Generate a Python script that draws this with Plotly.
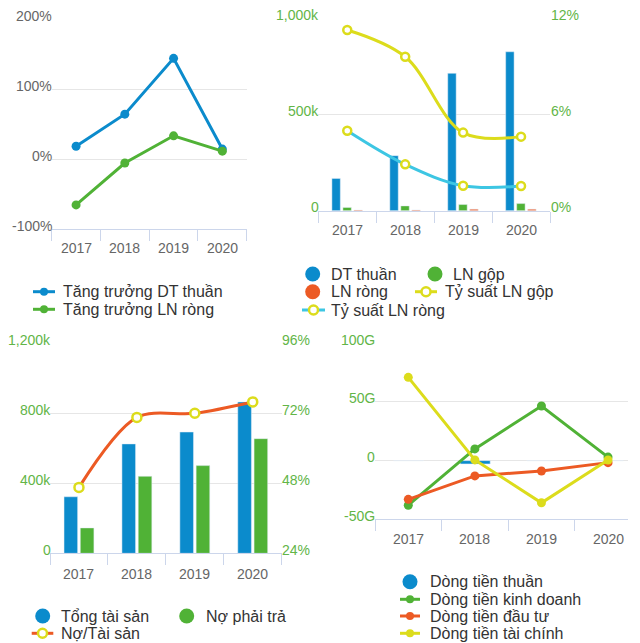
import plotly.graph_objects as go

# ---------------- data ----------------
years = ["2017", "2018", "2019", "2020"]

# Chart 1: growth (%)
growth_dt = [19, 65, 145, 15]
growth_ln = [-65, -5, 34, 12]
c1_tickvals = [-100, 0, 100, 200]
c1_ticktext = ["-100%", "0%", "100%", "200%"]

# Chart 2: revenue / profit (k) and margins (%)
dt_thuan = [168, 286, 714, 826]
ln_gop = [17, 25, 32, 37]
ln_rong = [3, 4, 8, 8]
ts_ln_gop = [11.27, 9.6, 4.87, 4.62]
ts_ln_rong = [4.99, 2.89, 1.56, 1.54]
c2_left_vals = [0, 500, 1000]
c2_left_text = ["0", "500k", "1,000k"]
c2_right_vals = [0, 6, 12]
c2_right_text = ["0%", "6%", "12%"]

# Chart 3: assets / liabilities (k) and ratio (%)
tong_ts = [323, 625, 693, 865]
no_pt = [145, 440, 501, 655]
no_ts = [46.6, 70.6, 72.0, 75.9]
c3_left_vals = [0, 400, 800, 1200]
c3_left_text = ["0", "400k", "800k", "1,200k"]
c3_right_vals = [24, 48, 72, 96]
c3_right_text = ["24%", "48%", "72%", "96%"]

# Chart 4: cash flows (G)
cf_thuan = [0, -2.8, 0, 0]
cf_kd = [-38, 10, 46.6, 3]
cf_dt = [-33, -13, -8.8, -1.7]
cf_tc = [71, 0.6, -36, 0.5]
c4_vals = [-50, 0, 50, 100]
c4_text = ["-50G", "0", "50G", "100G"]

# ---------------- styles ----------------
W, H = 640, 643
BLUE = "#0b8bcc"
GREEN = "#50b236"
ORANGE = "#ec5a24"
YELLOW = "#dcdc1c"
CYAN = "#3dc6e3"
AXGREEN = "#62b547"
GRAY = "#666666"
GRID = "#e6e6e6"
AXLINE = "#ccd6eb"
FONT = "Liberation Sans, Arial, sans-serif"


def X(px):
    return px / W


def Y(py):
    return 1 - py / H


fig = go.Figure()

# Chart 1
fig.add_trace(go.Scatter(x=years, y=growth_dt, mode="lines+markers", xaxis="x", yaxis="y",
                         line=dict(color=BLUE, width=3), marker=dict(size=9, color=BLUE),
                         showlegend=False))
fig.add_trace(go.Scatter(x=years, y=growth_ln, mode="lines+markers", xaxis="x", yaxis="y",
                         line=dict(color=GREEN, width=3), marker=dict(size=9, color=GREEN),
                         showlegend=False))

# Chart 2
bw2 = 0.145
fig.add_trace(go.Bar(x=years, y=dt_thuan, xaxis="x2", yaxis="y2", marker_color=BLUE,
                     width=bw2, offset=-0.265, showlegend=False))
fig.add_trace(go.Bar(x=years, y=ln_gop, xaxis="x2", yaxis="y2", marker_color=GREEN,
                     width=bw2, offset=-0.075, showlegend=False))
fig.add_trace(go.Bar(x=years, y=ln_rong, xaxis="x2", yaxis="y2", marker_color=ORANGE,
                     width=bw2, offset=0.115, showlegend=False))
fig.add_trace(go.Scatter(x=years, y=ts_ln_gop, mode="lines+markers", xaxis="x2", yaxis="y3",
                         line=dict(color=YELLOW, width=3, shape="spline", smoothing=1),
                         marker=dict(size=8, color="white", line=dict(color=YELLOW, width=2.5)),
                         showlegend=False))
fig.add_trace(go.Scatter(x=years, y=ts_ln_rong, mode="lines+markers", xaxis="x2", yaxis="y3",
                         line=dict(color=CYAN, width=3, shape="spline", smoothing=1),
                         marker=dict(size=8, color="white", line=dict(color=YELLOW, width=2.5)),
                         showlegend=False))

# Chart 3
bw3 = 0.235
fig.add_trace(go.Bar(x=years, y=tong_ts, xaxis="x3", yaxis="y4", marker_color=BLUE,
                     width=bw3, offset=-0.258, showlegend=False))
fig.add_trace(go.Bar(x=years, y=no_pt, xaxis="x3", yaxis="y4", marker_color=GREEN,
                     width=bw3, offset=0.023, showlegend=False))
fig.add_trace(go.Scatter(x=years, y=no_ts, mode="lines+markers", xaxis="x3", yaxis="y5",
                         line=dict(color=ORANGE, width=3, shape="spline", smoothing=0.9),
                         marker=dict(size=9, color="white", line=dict(color=YELLOW, width=2.5)),
                         showlegend=False))

# Chart 4
fig.add_trace(go.Bar(x=years, y=cf_thuan, xaxis="x4", yaxis="y6", marker_color=BLUE,
                     width=0.45, offset=-0.22, showlegend=False))
for vals, col in [(cf_kd, GREEN), (cf_dt, ORANGE), (cf_tc, YELLOW)]:
    fig.add_trace(go.Scatter(x=years, y=vals, mode="lines+markers", xaxis="x4", yaxis="y6",
                             line=dict(color=col, width=3), marker=dict(size=9, color=col),
                             showlegend=False))


def xax(x0, x1, anchor, rng):
    return dict(domain=[X(x0), X(x1)], anchor=anchor, type="category", range=rng,
                autorange=False, showticklabels=False,
                showline=True, linecolor=AXLINE, linewidth=1, ticks="outside",
                tickson="boundaries", ticklen=11, tickcolor=AXLINE, showgrid=False,
                fixedrange=True)


def yax(top, bottom, anchor, rng, vals, side="left", overlay=None, grid=True):
    d = dict(domain=[Y(bottom), Y(top)], anchor=anchor, range=rng, autorange=False,
             tickvals=vals, showticklabels=False, showgrid=grid, gridcolor=GRID,
             gridwidth=1, zeroline=False, showline=False, side=side, ticks="",
             fixedrange=True)
    if overlay:
        d["overlaying"] = overlay
    return d


layout = dict(
    width=W, height=H, margin=dict(l=0, r=0, t=0, b=0),
    paper_bgcolor="white", plot_bgcolor="white",
    font=dict(family=FONT, color="#333333"),
    barmode="overlay", showlegend=False,
    xaxis=xax(51.7, 246.7, "y", [-0.5, 3.5]),
    yaxis=yax(20, 229.3, "x", [-100, 200], c1_tickvals),
    xaxis2=xax(318.3, 550, "y2", [-0.5, 3.5]),
    yaxis2=yax(18.3, 210.7, "x2", [0, 1000], c2_left_vals),
    yaxis3=yax(18.3, 210.7, "x2", [0, 12], c2_right_vals, side="right", overlay="y2",
               grid=False),
    xaxis3=xax(50, 281.7, "y4", [-0.5, 3.5]),
    yaxis4=yax(343.3, 553.3, "x3", [0, 1200], c3_left_vals),
    yaxis5=yax(343.3, 553.3, "x3", [24, 96], c3_right_vals, side="right", overlay="y4",
               grid=False),
    xaxis4=xax(375, 628, "y6", [-0.5, 3.3]),
    yaxis6=yax(343.3, 519.3, "x4", [-50, 100], c4_vals),
)
fig.update_layout(**layout)

shapes = []
annotations = []

# ---------------- tick labels (placed through the axes' own scales) ----------------


def x_labels(xref, ypx):
    for i, yr in enumerate(years):
        annotations.append(dict(x=i, y=Y(ypx), xref=xref, yref="paper", text=yr,
                                showarrow=False, xanchor="center", yanchor="middle",
                                font=dict(size=14, color=GRAY, family=FONT)))


def y_labels(yref, xpx, vals, texts, color, anchor):
    for v, t in zip(vals, texts):
        annotations.append(dict(x=X(xpx), y=v, xref="paper", yref=yref, text=t,
                                showarrow=False, xanchor=anchor, yanchor="middle",
                                yshift=3.5, font=dict(size=14, color=color, family=FONT)))


x_labels("x", 248)
x_labels("x2", 230)
x_labels("x3", 574)
x_labels("x4", 538.7)
y_labels("y", 54, c1_tickvals, c1_ticktext, GRAY, "right")
y_labels("y2", 320.5, c2_left_vals, c2_left_text, AXGREEN, "right")
y_labels("y3", 548.5, c2_right_vals, c2_right_text, AXGREEN, "left")
y_labels("y4", 52.5, c3_left_vals, c3_left_text, AXGREEN, "right")
y_labels("y5", 280, c3_right_vals, c3_right_text, AXGREEN, "left")
y_labels("y6", 377, c4_vals, c4_text, AXGREEN, "right")

# ---------------- manual legends ----------------


def leg_text(x, y, text):
    annotations.append(dict(x=X(x), y=Y(y), xref="paper", yref="paper", text=text,
                            showarrow=False, xanchor="left", yanchor="middle",
                            font=dict(size=16, color="#333333", family=FONT)))


def leg_circle(cx, cy, color, r=7.5):
    shapes.append(dict(type="circle", xref="paper", yref="paper",
                       x0=X(cx - r), x1=X(cx + r), y0=Y(cy + r), y1=Y(cy - r),
                       fillcolor=color, line=dict(width=0)))


def leg_line(x0, x1, cy, color, mfill, mline, r=4.5):
    shapes.append(dict(type="line", xref="paper", yref="paper", x0=X(x0), x1=X(x1),
                       y0=Y(cy), y1=Y(cy), line=dict(color=color, width=3)))
    cx = (x0 + x1) / 2
    shapes.append(dict(type="circle", xref="paper", yref="paper",
                       x0=X(cx - r), x1=X(cx + r), y0=Y(cy + r), y1=Y(cy - r),
                       fillcolor=mfill, line=dict(color=mline, width=2.5 if mfill == "white" else 0)))


# chart 1 legend
leg_line(33, 55, 291.7, BLUE, BLUE, BLUE, r=4)
leg_text(61, 291.7, "Tăng trưởng DT thuần")
leg_line(33, 55, 309.3, GREEN, GREEN, GREEN, r=4)
leg_text(61, 309.3, "Tăng trưởng LN ròng")

# chart 2 legend
leg_circle(312.7, 274, BLUE)
leg_text(329, 274, "DT thuần")
leg_circle(435, 274, GREEN)
leg_text(451, 274, "LN gộp")
leg_circle(312.7, 291.7, ORANGE)
leg_text(329, 291.7, "LN ròng")
leg_line(415, 437, 291.7, YELLOW, "white", YELLOW)
leg_text(443, 291.7, "Tỷ suất LN gộp")
leg_line(302, 325, 310, CYAN, "white", YELLOW)
leg_text(329, 310, "Tỷ suất LN ròng")

# chart 3 legend
leg_circle(42.7, 616, BLUE)
leg_text(58.5, 616, "Tổng tài sản")
leg_circle(186.7, 616, GREEN)
leg_text(203.5, 616, "Nợ phải trả")
leg_line(31.7, 53.3, 633.3, ORANGE, "white", YELLOW)
leg_text(58.5, 633.3, "Nợ/Tài sản")

# chart 4 legend
leg_circle(410, 581.7, BLUE)
leg_text(427.5, 581.7, "Dòng tiền thuần")
leg_line(400, 420, 599.3, GREEN, GREEN, GREEN, r=4)
leg_text(427.5, 599.3, "Dòng tiền kinh doanh")
leg_line(400, 420, 616, ORANGE, ORANGE, ORANGE, r=4)
leg_text(427.5, 616, "Dòng tiền đầu tư")
leg_line(400, 420, 633.3, YELLOW, YELLOW, YELLOW, r=4)
leg_text(427.5, 633.3, "Dòng tiền tài chính")

fig.update_layout(shapes=shapes, annotations=annotations)

fig.write_html("out.html", config={"displayModeBar": False})
